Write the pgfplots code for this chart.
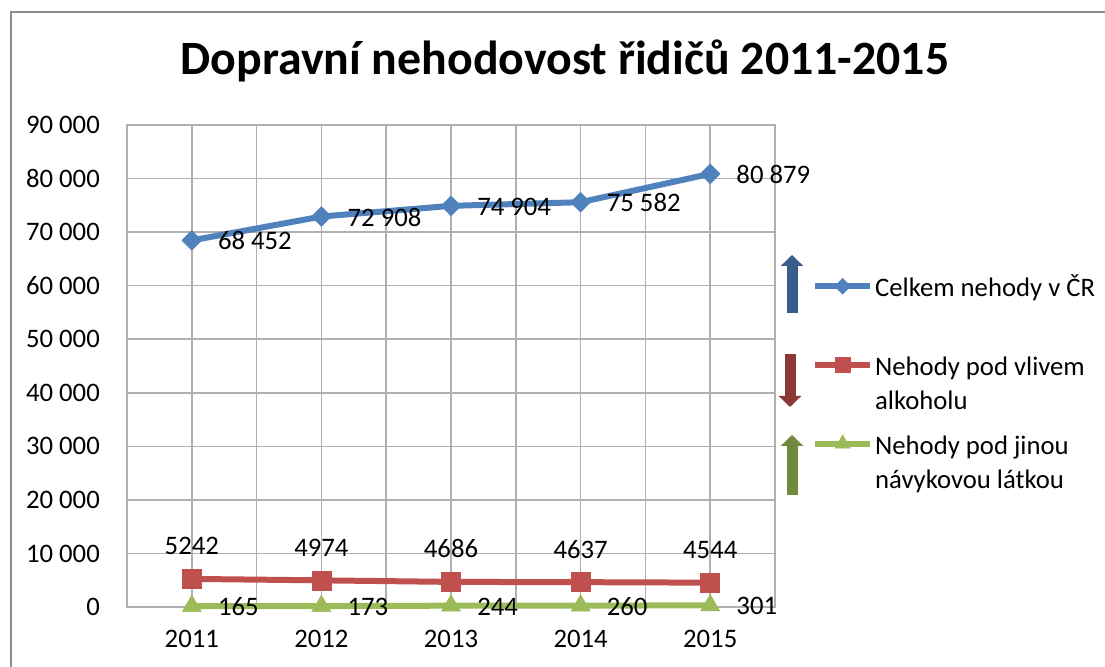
\documentclass[border=0pt]{standalone}
\usepackage{pgfplots}
\pgfplotsset{compat=1.18}
\usepackage{fontspec}
\setmainfont{Carlito}
\usetikzlibrary{arrows.meta}
\definecolor{cblue}{HTML}{4F81BD}
\definecolor{cred}{HTML}{C0504D}
\definecolor{cgreen}{HTML}{9BBB59}
\definecolor{ablue}{HTML}{385D8A}
\definecolor{ared}{HTML}{8C3836}
\definecolor{agreen}{HTML}{71893F}
\definecolor{gridc}{HTML}{B0B0B0}
\definecolor{framec}{HTML}{8C8C8C}
\newcommand{\lbl}{\fontsize{26.8}{34}\selectfont}
\begin{document}
\begin{tikzpicture}[x=1bp,y=1bp]
\path[use as bounding box] (0,0) rectangle (1105,667);
\draw[framec, line width=1.5bp] (11,0) -- (11,655) -- (1105,655);
\node[anchor=base, inner sep=0pt, font=\fontsize{48}{56}\selectfont\bfseries] at (565,592) {Dopravní nehodovost řidičů 2011-2015};
\begin{axis}[
  at={(127bp,60bp)}, anchor=south west,
  scale only axis, width=648bp, height=482bp,
  xmin=-0.5, xmax=4.5, ymin=0, ymax=90000,
  clip=false,
  scaled y ticks=false,
  xtick={0,1,2,3,4},
  xticklabels={2011,2012,2013,2014,2015},
  minor xtick={-0.5,0.5,1.5,2.5,3.5,4.5},
  ytick={0,10000,20000,30000,40000,50000,60000,70000,80000,90000},
  yticklabels={0,10 000,20 000,30 000,40 000,50 000,60 000,70 000,80 000,90 000},
  xmajorgrids, xminorgrids, ymajorgrids,
  grid style={gridc, line width=1.5bp},
  minor grid style={gridc, line width=1.5bp},
  axis line style={gridc, line width=1.5bp},
  major tick length=0pt, minor tick length=0pt,
  tick label style={font=\lbl, text=black},
  yticklabel style={anchor=east, inner sep=0pt, xshift=-27bp},
  xticklabel style={anchor=base, inner sep=0pt, yshift=-41bp},
  /pgf/number format/assume math mode=true,
  legend image code/.code={\draw[mark repeat=2, mark phase=2, #1] plot coordinates {(0bp,0bp) (27.5bp,0bp) (55bp,0bp)};},
  legend image post style={every mark/.append style={scale=0.8}},
  legend style={draw=none, fill=none, inner sep=0pt, at={(1.057,0.69)}, anchor=north west,
    font=\lbl, row sep=54bp, column sep=2bp, nodes={inner sep=0pt}},
  legend cell align=left,
  nodes near coords,
  point meta=explicit symbolic,
  every node near coord/.append style={font=\lbl, text=black, inner sep=0pt},
]
\addplot[cblue, line width=6bp, mark=square*, mark size=7bp,
  mark options={rotate=45, solid, line width=0.5bp},
  every node near coord/.append style={anchor=base west, xshift=26bp, yshift=-9.5bp}]
  coordinates {(0,68452) [68 452] (1,72908) [72 908] (2,74904) [74 904] (3,75582) [75 582] (4,80879) [80 879]};
\addlegendentry{Celkem nehody v ČR}
\addplot[cred, line width=6bp, mark=square*, mark size=9.5bp,
  mark options={solid, line width=0.5bp},
  every node near coord/.append style={anchor=base, yshift=24bp}]
  coordinates {(0,5242) [5242] (1,4974) [4974] (2,4686) [4686] (3,4637) [4637] (4,4544) [4544]};
\addlegendentry{\begin{tabular}[t]{@{}l@{}}Nehody pod vlivem\\alkoholu\end{tabular}}
\addplot[cgreen, line width=6bp, mark=triangle*, mark size=11bp,
  mark options={solid, line width=0.5bp},
  every node near coord/.append style={anchor=base west, xshift=26bp, yshift=-9.5bp}]
  coordinates {(0,165) [165] (1,173) [173] (2,244) [244] (3,260) [260] (4,301) [301]};
\addlegendentry{\begin{tabular}[t]{@{}l@{}}Nehody pod jinou\\návykovou látkou\end{tabular}}
\end{axis}
\draw[ablue, line width=11bp, -{Triangle[width=22bp, length=11bp]}] (792,354) -- (792,412);
\draw[ared, line width=11bp, -{Triangle[width=22bp, length=11bp]}] (790,313) -- (790,260);
\draw[agreen, line width=11bp, -{Triangle[width=22bp, length=11bp]}] (792,172) -- (792,232);
\end{tikzpicture}
\end{document}
